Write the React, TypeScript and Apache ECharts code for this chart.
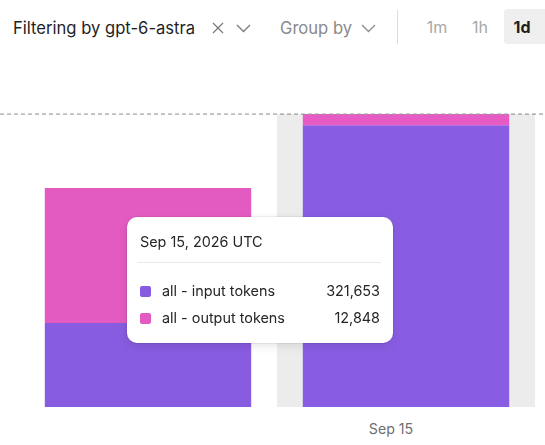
import React, { useEffect, useRef } from "react";
import * as echarts from "echarts";

const categories = ["Sep 14", "Sep 15"];
const tooltipTitles = ["Sep 14, 2026 UTC", "Sep 15, 2026 UTC"];
const seriesNames = ["all - input tokens", "all - output tokens"];
const inputTokens = [95900, 321653];
const outputTokens = [154100, 12848];
const highlightedIndex = 1;
const labeledIndices = [1];
const intervalOptions = ["1m", "1h", "1d"];
const selectedInterval = "1d";
const filterLabel = "Filtering by gpt-6-astra";
const groupLabel = "Group by";

const PURPLE = "#885ce0";
const PINK = "#e35bc1";
const FONT = "Inter, 'Noto Sans', sans-serif";

export default function App() {
  const ref = useRef<HTMLDivElement>(null);
  useEffect(() => {
    const chart = echarts.init(ref.current!, null, { renderer: "svg" });
    const totals = inputTokens.map((v, i) => v + outputTokens[i]);
    const maxTotal = Math.max(...totals);
    const fmt = (n: number) => n.toLocaleString("en-US");
    const seriesColors = [PURPLE, PINK];
    const seriesData = [inputTokens, outputTokens];

    const row = (i: number, idx: number, mt: number) =>
      `<div style="display:flex;align-items:center;height:22px;margin-top:${mt}px;">` +
      `<span style="width:11px;height:11px;border-radius:2px;background:${seriesColors[i]};display:inline-block;flex:none;"></span>` +
      `<span style="margin-left:11px;flex:1;">${seriesNames[i]}</span>` +
      `<span style="padding-right:1px;">${fmt(seriesData[i][idx])}</span></div>`;

    const tooltipHtml = (idx: number) =>
      `<div style="width:241px;font-family:${FONT};font-size:14.4px;color:#262626;line-height:22px;">` +
      `<div style="height:22px;">${tooltipTitles[idx]}</div>` +
      `<div style="height:1px;background:#e9e9e9;margin-top:9px;margin-left:-3px;"></div>` +
      row(0, idx, 17) +
      row(1, idx, 5) +
      `</div>`;

    const intervalCenters = [437, 480, 522];

    const graphic: any[] = [
      {
        type: "text",
        x: 13,
        y: 28,
        style: {
          text: filterLabel,
          fontSize: 16.6,
          fontFamily: FONT,
          fill: "#1f1f1f",
          textVerticalAlign: "middle",
          verticalAlign: "middle",
        },
      },
      {
        type: "line",
        shape: { x1: 213, y1: 23, x2: 223, y2: 33 },
        style: { stroke: "#7a7a7a", lineWidth: 1.3 },
      },
      {
        type: "line",
        shape: { x1: 223, y1: 23, x2: 213, y2: 33 },
        style: { stroke: "#7a7a7a", lineWidth: 1.3 },
      },
      {
        type: "polyline",
        shape: { points: [[237, 25], [243.5, 31.5], [250, 25]] },
        style: { stroke: "#7a7a7a", lineWidth: 1.3, fill: null },
      },
      {
        type: "text",
        x: 280,
        y: 28,
        style: {
          text: groupLabel,
          fontSize: 16.6,
          fontFamily: FONT,
          fill: "#8a8a8a",
          textVerticalAlign: "middle",
          verticalAlign: "middle",
        },
      },
      {
        type: "polyline",
        shape: { points: [[362, 25], [368.5, 31.5], [375, 25]] },
        style: { stroke: "#8a8a8a", lineWidth: 1.3, fill: null },
      },
      {
        type: "line",
        shape: { x1: 397.5, y1: 10, x2: 397.5, y2: 44 },
        style: { stroke: "#dcdcdc", lineWidth: 1 },
      },
      {
        type: "rect",
        shape: { x: 504, y: 9, width: 42, height: 35, r: [4, 0, 0, 4] },
        style: { fill: "#efefef" },
      },
      ...intervalOptions.map((t, i) => ({
        type: "text",
        x: intervalCenters[i],
        y: 27,
        style: {
          text: t,
          fontSize: 16,
          fontFamily: FONT,
          fontWeight: t === selectedInterval ? 700 : 400,
          fill: t === selectedInterval ? "#1f1f1f" : "#a8a8a8",
          textAlign: "center",
          align: "center",
          textVerticalAlign: "middle",
          verticalAlign: "middle",
        },
      })),
    ];

    chart.setOption({
      animation: false,
      backgroundColor: "#ffffff",
      graphic,
      grid: [
        { left: 19, right: 10, top: 114, bottom: 38 },
        { left: 0, right: 0, top: 114, bottom: 38 },
      ],
      tooltip: {
        trigger: "axis",
        triggerOn: "none",
        alwaysShowContent: true,
        transitionDuration: 0,
        showDelay: 0,
        position: [127, 217],
        padding: [14, 12, 14, 13],
        backgroundColor: "#ffffff",
        borderWidth: 0,
        borderColor: "#ffffff",
        extraCssText:
          "border-radius:10px;box-shadow:0 0 0 1px rgba(0,0,0,0.06),0 3px 10px rgba(0,0,0,0.10);",
        axisPointer: {
          type: "shadow",
          shadowStyle: { color: "rgba(0,0,0,0.075)" },
        },
        formatter: () => tooltipHtml(highlightedIndex),
      },
      xAxis: [
        {
          type: "category",
          gridIndex: 0,
          data: categories,
          axisLine: { show: false },
          axisTick: { show: false },
          axisLabel: {
            interval: (index: number) => labeledIndices.includes(index),
            color: "#6f6f6f",
            fontSize: 14.2,
            fontFamily: FONT,
            margin: 14,
            padding: [0, 30, 0, 0],
          },
          splitLine: { show: false },
        },
        {
          type: "value",
          gridIndex: 1,
          min: 0,
          max: 1,
          show: false,
          axisPointer: { show: false },
        },
      ],
      yAxis: [
        { type: "value", gridIndex: 0, min: 0, max: maxTotal, show: false, splitLine: { show: false } },
        { type: "value", gridIndex: 1, min: 0, max: maxTotal, show: false, splitLine: { show: false } },
      ],
      series: [
        {
          name: seriesNames[0],
          type: "bar",
          stack: "tokens",
          barWidth: "80%",
          data: inputTokens,
          itemStyle: { color: PURPLE },
          xAxisIndex: 0,
          yAxisIndex: 0,
        },
        {
          name: seriesNames[1],
          type: "bar",
          stack: "tokens",
          barWidth: "80%",
          data: outputTokens,
          itemStyle: { color: PINK },
          xAxisIndex: 0,
          yAxisIndex: 0,
        },
        {
          name: "max",
          type: "line",
          xAxisIndex: 1,
          yAxisIndex: 1,
          data: [
            [0, maxTotal],
            [1, maxTotal],
          ],
          symbol: "none",
          silent: true,
          z: 10,
          tooltip: { show: false },
          lineStyle: { type: [4, 3], color: "#a8a8a8", width: 1.5 },
        },
      ],
    });

    chart.dispatchAction({ type: "showTip", seriesIndex: 0, dataIndex: highlightedIndex });

    return () => chart.dispose();
  }, []);

  return (
    <div
      ref={ref}
      style={{ position: "absolute", left: 0, top: 0, width: 545, height: 445, background: "#fff" }}
    />
  );
}
